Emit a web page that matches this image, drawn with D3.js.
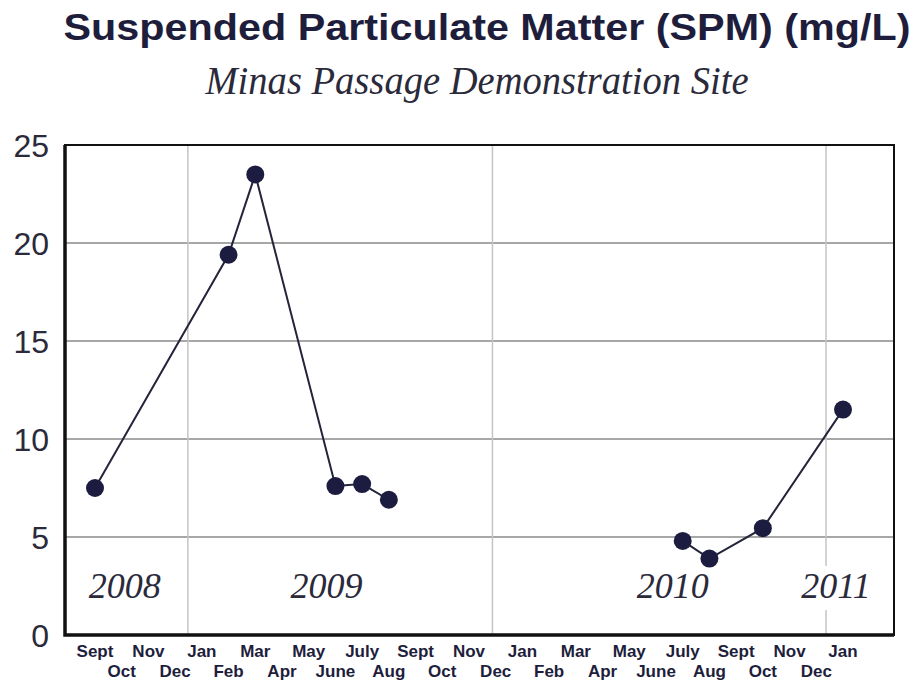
<!DOCTYPE html>
<html>
<head>
<meta charset="utf-8">
<script src="https://cdn.jsdelivr.net/npm/d3@7"></script>
<style>
  body { margin: 0; background: #fff; }
  svg { display: block; }
</style>
</head>
<body>
<svg id="chart" width="917" height="681"></svg>
<script>
// month axis (Sept 2008 .. Jan 2011)
const months = ["2008-09","2008-10","2008-11","2008-12",
  "2009-01","2009-02","2009-03","2009-04","2009-05","2009-06","2009-07","2009-08","2009-09","2009-10","2009-11","2009-12",
  "2010-01","2010-02","2010-03","2010-04","2010-05","2010-06","2010-07","2010-08","2010-09","2010-10","2010-11","2010-12",
  "2011-01"];
const monthLabels = ["Sept","Oct","Nov","Dec",
  "Jan","Feb","Mar","Apr","May","June","July","Aug","Sept","Oct","Nov","Dec",
  "Jan","Feb","Mar","Apr","May","June","July","Aug","Sept","Oct","Nov","Dec",
  "Jan"];

// first sampling run
const run1Dates = ["2008-09","2009-02","2009-03","2009-06","2009-07","2009-08"];
const run1Values = [7.5, 19.4, 23.5, 7.6, 7.7, 6.9];
// second sampling run
const run2Dates = ["2010-07","2010-08","2010-10","2011-01"];
const run2Values = [4.8, 3.9, 5.45, 11.5];

const yTicks = [0, 5, 10, 15, 20, 25];
const yearLabels = ["2008", "2009", "2010", "2011"];
const yearAnchors = ["2008-10", "2009-06", "2010-07", "2011-01"];
const yearBreaks = ["2009-01", "2010-01", "2011-01"];

const svg = d3.select("#chart");
const ink = "#1e1e3c";

const plotL = 65, plotR = 894, plotT = 145, plotB = 635;

const x = d3.scalePoint().domain(months).range([95, 843]);
const y = d3.scaleLinear().domain([0, 25]).range([plotB, plotT]);

// title
svg.append("text")
  .attr("x", 487).attr("y", 40)
  .attr("text-anchor", "middle")
  .attr("font-family", "Liberation Sans, Arial, sans-serif")
  .attr("font-weight", "bold")
  .attr("font-size", 37)
  .attr("textLength", 847).attr("lengthAdjust", "spacingAndGlyphs")
  .attr("fill", ink)
  .text("Suspended Particulate Matter (SPM) (mg/L)");

svg.append("text")
  .attr("x", 477).attr("y", 94)
  .attr("text-anchor", "middle")
  .attr("font-family", "Liberation Serif, Times New Roman, serif")
  .attr("font-style", "italic")
  .attr("font-size", 40)
  .attr("textLength", 543).attr("lengthAdjust", "spacingAndGlyphs")
  .attr("fill", "#2a2a3a")
  .text("Minas Passage Demonstration Site");

// horizontal grid
svg.append("g")
  .selectAll("line")
  .data(yTicks.filter(t => t > 0 && t < 25))
  .join("line")
  .attr("x1", plotL).attr("x2", plotR)
  .attr("y1", d => y(d)).attr("y2", d => y(d))
  .attr("stroke", "#8a8a8a").attr("stroke-width", 1.5);

// vertical year separators, drawn a little before each January
const breakShift = [14, 30, 17];
svg.append("g")
  .selectAll("line")
  .data(yearBreaks)
  .join("line")
  .attr("x1", (d, i) => x(d) - breakShift[i]).attr("x2", (d, i) => x(d) - breakShift[i])
  .attr("y1", plotT).attr("y2", plotB)
  .attr("stroke", "#c4c4c4").attr("stroke-width", 1.5);

// year annotations
const yearOffsets = [3, -9, -10, -7];
const yg = svg.append("g");
yearLabels.forEach((t, i) => {
  const cx = x(yearAnchors[i]) + yearOffsets[i];
  yg.append("rect")
    .attr("x", cx - 38).attr("y", 566)
    .attr("width", 76).attr("height", 44)
    .attr("fill", "#fff");
  yg.append("text")
    .attr("x", cx).attr("y", 598)
    .attr("text-anchor", "middle")
    .attr("font-family", "Liberation Serif, Times New Roman, serif")
    .attr("font-style", "italic")
    .attr("font-size", 36)
    .attr("fill", "#2a2a3a")
    .text(t);
});

// frame
svg.append("rect")
  .attr("x", plotL).attr("y", plotT)
  .attr("width", plotR - plotL).attr("height", plotB - plotT)
  .attr("fill", "none").attr("stroke", "#111").attr("stroke-width", 2);
svg.append("path")
  .attr("d", `M${plotL},${plotT}V${plotB}H${plotR}`)
  .attr("fill", "none").attr("stroke", "#111").attr("stroke-width", 3.5);

// y tick labels
svg.append("g")
  .selectAll("text")
  .data(yTicks)
  .join("text")
  .attr("x", 49).attr("y", d => y(d))
  .attr("dy", "0.36em")
  .attr("text-anchor", "end")
  .attr("font-family", "Liberation Sans, Arial, sans-serif")
  .attr("font-size", 32)
  .attr("fill", "#2a2a3a")
  .text(d => d);

// month labels in two staggered rows
svg.append("g")
  .selectAll("text")
  .data(months)
  .join("text")
  .attr("x", d => x(d))
  .attr("y", (d, i) => i % 2 === 0 ? 657 : 677)
  .attr("text-anchor", "middle")
  .attr("font-family", "Liberation Sans, Arial, sans-serif")
  .attr("font-weight", "bold")
  .attr("font-size", 17)
  .attr("fill", ink)
  .text((d, i) => monthLabels[i]);

// data
const line = d3.line().x(d => x(d.date)).y(d => y(d.value));
const runs = [
  run1Dates.map((d, i) => ({ date: d, value: run1Values[i] })),
  run2Dates.map((d, i) => ({ date: d, value: run2Values[i] }))
];

runs.forEach(run => {
  svg.append("path")
    .datum(run)
    .attr("d", line)
    .attr("fill", "none")
    .attr("stroke", "#24243a")
    .attr("stroke-width", 2);
  svg.append("g")
    .selectAll("circle")
    .data(run)
    .join("circle")
    .attr("cx", d => x(d.date))
    .attr("cy", d => y(d.value))
    .attr("r", 9)
    .attr("fill", "#1c1c40");
});
</script>
</body>
</html>
